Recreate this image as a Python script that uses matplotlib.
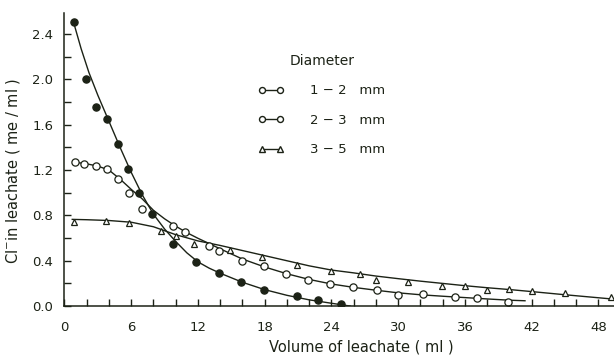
import matplotlib
matplotlib.use("Agg")
import matplotlib.pyplot as plt
from matplotlib.lines import Line2D

# ---- data ----
# 1-2 mm (filled circles)
x12 = [0.85, 1.9, 2.8, 3.8, 4.8, 5.75, 6.7, 7.9, 9.75, 11.8, 13.85, 15.9, 17.95, 20.9, 22.8, 24.9]
y12 = [2.51, 2.0, 1.76, 1.65, 1.43, 1.21, 1.0, 0.81, 0.55, 0.39, 0.29, 0.21, 0.14, 0.09, 0.053, 0.02]
# 2-3 mm (open circles)
x23 = [0.95, 1.8, 2.85, 3.8, 4.85, 5.8, 7.0, 9.8, 10.8, 12.95, 13.9, 15.95, 17.95, 19.9, 21.9,
       23.9, 25.9, 28.05, 30.0, 32.2, 35.1, 37.1, 39.9]
y23 = [1.27, 1.25, 1.24, 1.21, 1.12, 1.0, 0.86, 0.71, 0.65, 0.53, 0.49, 0.40, 0.355, 0.28, 0.23,
       0.195, 0.168, 0.139, 0.10, 0.109, 0.08, 0.07, 0.04]
# 3-5 mm (open triangles)
x35 = [0.85, 3.75, 5.8, 8.7, 10.0, 11.6, 14.85, 17.75, 20.9, 24.0, 26.6, 28.0, 30.9, 33.9, 36.0,
       38.0, 40.0, 42.0, 45.0, 49.1]
y35 = [0.745, 0.754, 0.736, 0.66, 0.615, 0.548, 0.495, 0.436, 0.362, 0.312, 0.285, 0.227, 0.209,
       0.174, 0.18, 0.141, 0.15, 0.13, 0.117, 0.077]

# fitted curves as drawn in the reference
c12x = [0.8, 1.5, 2.2, 3.0, 4.0, 5.0, 6.0, 7.0, 8.0, 9.0, 10.0, 11.0, 12.0, 13.0, 14.0, 16.0,
        18.0, 20.0, 22.0, 24.0, 25.7]
c12y = [2.51, 2.27, 2.06, 1.86, 1.63, 1.40, 1.18, 0.98, 0.81, 0.68, 0.57, 0.47, 0.39, 0.335,
        0.29, 0.21, 0.145, 0.095, 0.055, 0.025, 0.0]
c23x = [0.9, 2.0, 3.0, 4.0, 5.0, 6.0, 7.0, 8.0, 9.0, 10.0, 11.0, 12.0, 13.0, 14.0, 16.0, 18.0,
        20.0, 22.0, 24.0, 26.0, 28.0, 30.0, 32.0, 34.0, 36.0, 38.0, 40.0, 41.4]
c23y = [1.27, 1.255, 1.235, 1.2, 1.12, 1.03, 0.945, 0.845, 0.77, 0.705, 0.648, 0.598, 0.552,
        0.505, 0.415, 0.345, 0.285, 0.235, 0.195, 0.165, 0.14, 0.117, 0.10, 0.087, 0.075, 0.063,
        0.052, 0.047]
c35x = [0.7, 2, 4, 6, 8, 10, 12, 14, 16, 18, 20, 22, 24, 26, 28, 30, 32, 34, 36, 38, 40, 42,
        45, 49.3]
c35y = [0.765, 0.762, 0.755, 0.74, 0.70, 0.63, 0.575, 0.535, 0.49, 0.445, 0.40, 0.355, 0.318,
        0.293, 0.265, 0.242, 0.22, 0.2, 0.18, 0.162, 0.146, 0.128, 0.1, 0.062]

xticks = [0, 6, 12, 18, 24, 30, 36, 42, 48]
xtick_labels = ["0", "6", "12", "18", "24", "30", "36", "42", "48"]
yticks = [0.0, 0.4, 0.8, 1.2, 1.6, 2.0, 2.4]
ytick_labels = ["0.0", "0.4", "0.8", "1.2", "1.6", "2.0", "2.4"]
legend_labels = ["1 \u2212 2   mm", "2 \u2212 3   mm", "3 \u2212 5   mm"]

ink = "#1c2216"
plt.rcParams["font.family"] = ["DejaVu Sans"]

fig = plt.figure(figsize=(6.14, 3.58), dpi=100)
ax = fig.add_axes([0.105, 0.145, 0.895, 0.82])

lw = 1.0
ax.plot(c12x, c12y, color=ink, lw=lw)
ax.plot(c23x, c23y, color=ink, lw=lw)
ax.plot(c35x, c35y, color=ink, lw=lw)
ax.plot(x12, y12, "o", ms=5.2, mfc=ink, mec=ink, mew=0.9, ls="none")
ax.plot(x23, y23, "o", ms=5.2, mfc="white", mec=ink, mew=0.9, ls="none")
ax.plot(x35, y35, "^", ms=5.0, mfc="white", mec=ink, mew=0.9, ls="none")

ax.set_xlim(0, 49.4)
ax.set_ylim(0, 2.59)
for s in ["top", "right"]:
    ax.spines[s].set_visible(False)
for s in ["left", "bottom"]:
    ax.spines[s].set_color(ink)
    ax.spines[s].set_linewidth(1.1)

ax.set_xticks(xticks)
ax.set_xticklabels(xtick_labels)
ax.set_yticks(yticks)
ax.set_yticklabels(ytick_labels)
ax.set_xticks([v for v in range(2, 50, 2) if v % 6 != 0], minor=True)
ax.set_yticks([0.2, 0.6, 1.0, 1.4, 1.8, 2.2], minor=True)
ax.tick_params(which="both", direction="in", color=ink, width=1.0)
ax.tick_params(which="major", length=5)
ax.tick_params(which="minor", length=5)
ax.tick_params(axis="x", which="major", pad=10.5, labelsize=9.5, labelcolor=ink)
ax.tick_params(axis="y", which="major", pad=8, labelsize=9.5, labelcolor=ink)

ax.set_xlabel("Volume of leachate ( ml )", fontsize=10.5, color=ink)
ax.set_ylabel("Cl$^{-}$in leachate ( me / ml )", fontsize=10.5, color=ink)
ax.xaxis.set_label_coords(0.54, -0.115)
ax.yaxis.set_label_coords(-0.077, 0.46)

handles = [
    Line2D([0], [0], color=ink, lw=1.0, marker="o", ms=4.3, mfc="white", mec=ink),
    Line2D([0], [0], color=ink, lw=1.0, marker="o", ms=4.3, mfc="white", mec=ink),
    Line2D([0], [0], color=ink, lw=1.0, marker="^", ms=4.3, mfc="white", mec=ink),
]
leg = ax.legend(handles, legend_labels, title="Diameter", frameon=False, numpoints=2,
                handlelength=2.0, handletextpad=2.0, labelspacing=1.25,
                fontsize=9.5, title_fontsize=10, loc="upper left",
                bbox_to_anchor=(0.33, 0.90), labelcolor=ink)
leg.get_title().set_color(ink)

fig.savefig("out.png", dpi=100)
